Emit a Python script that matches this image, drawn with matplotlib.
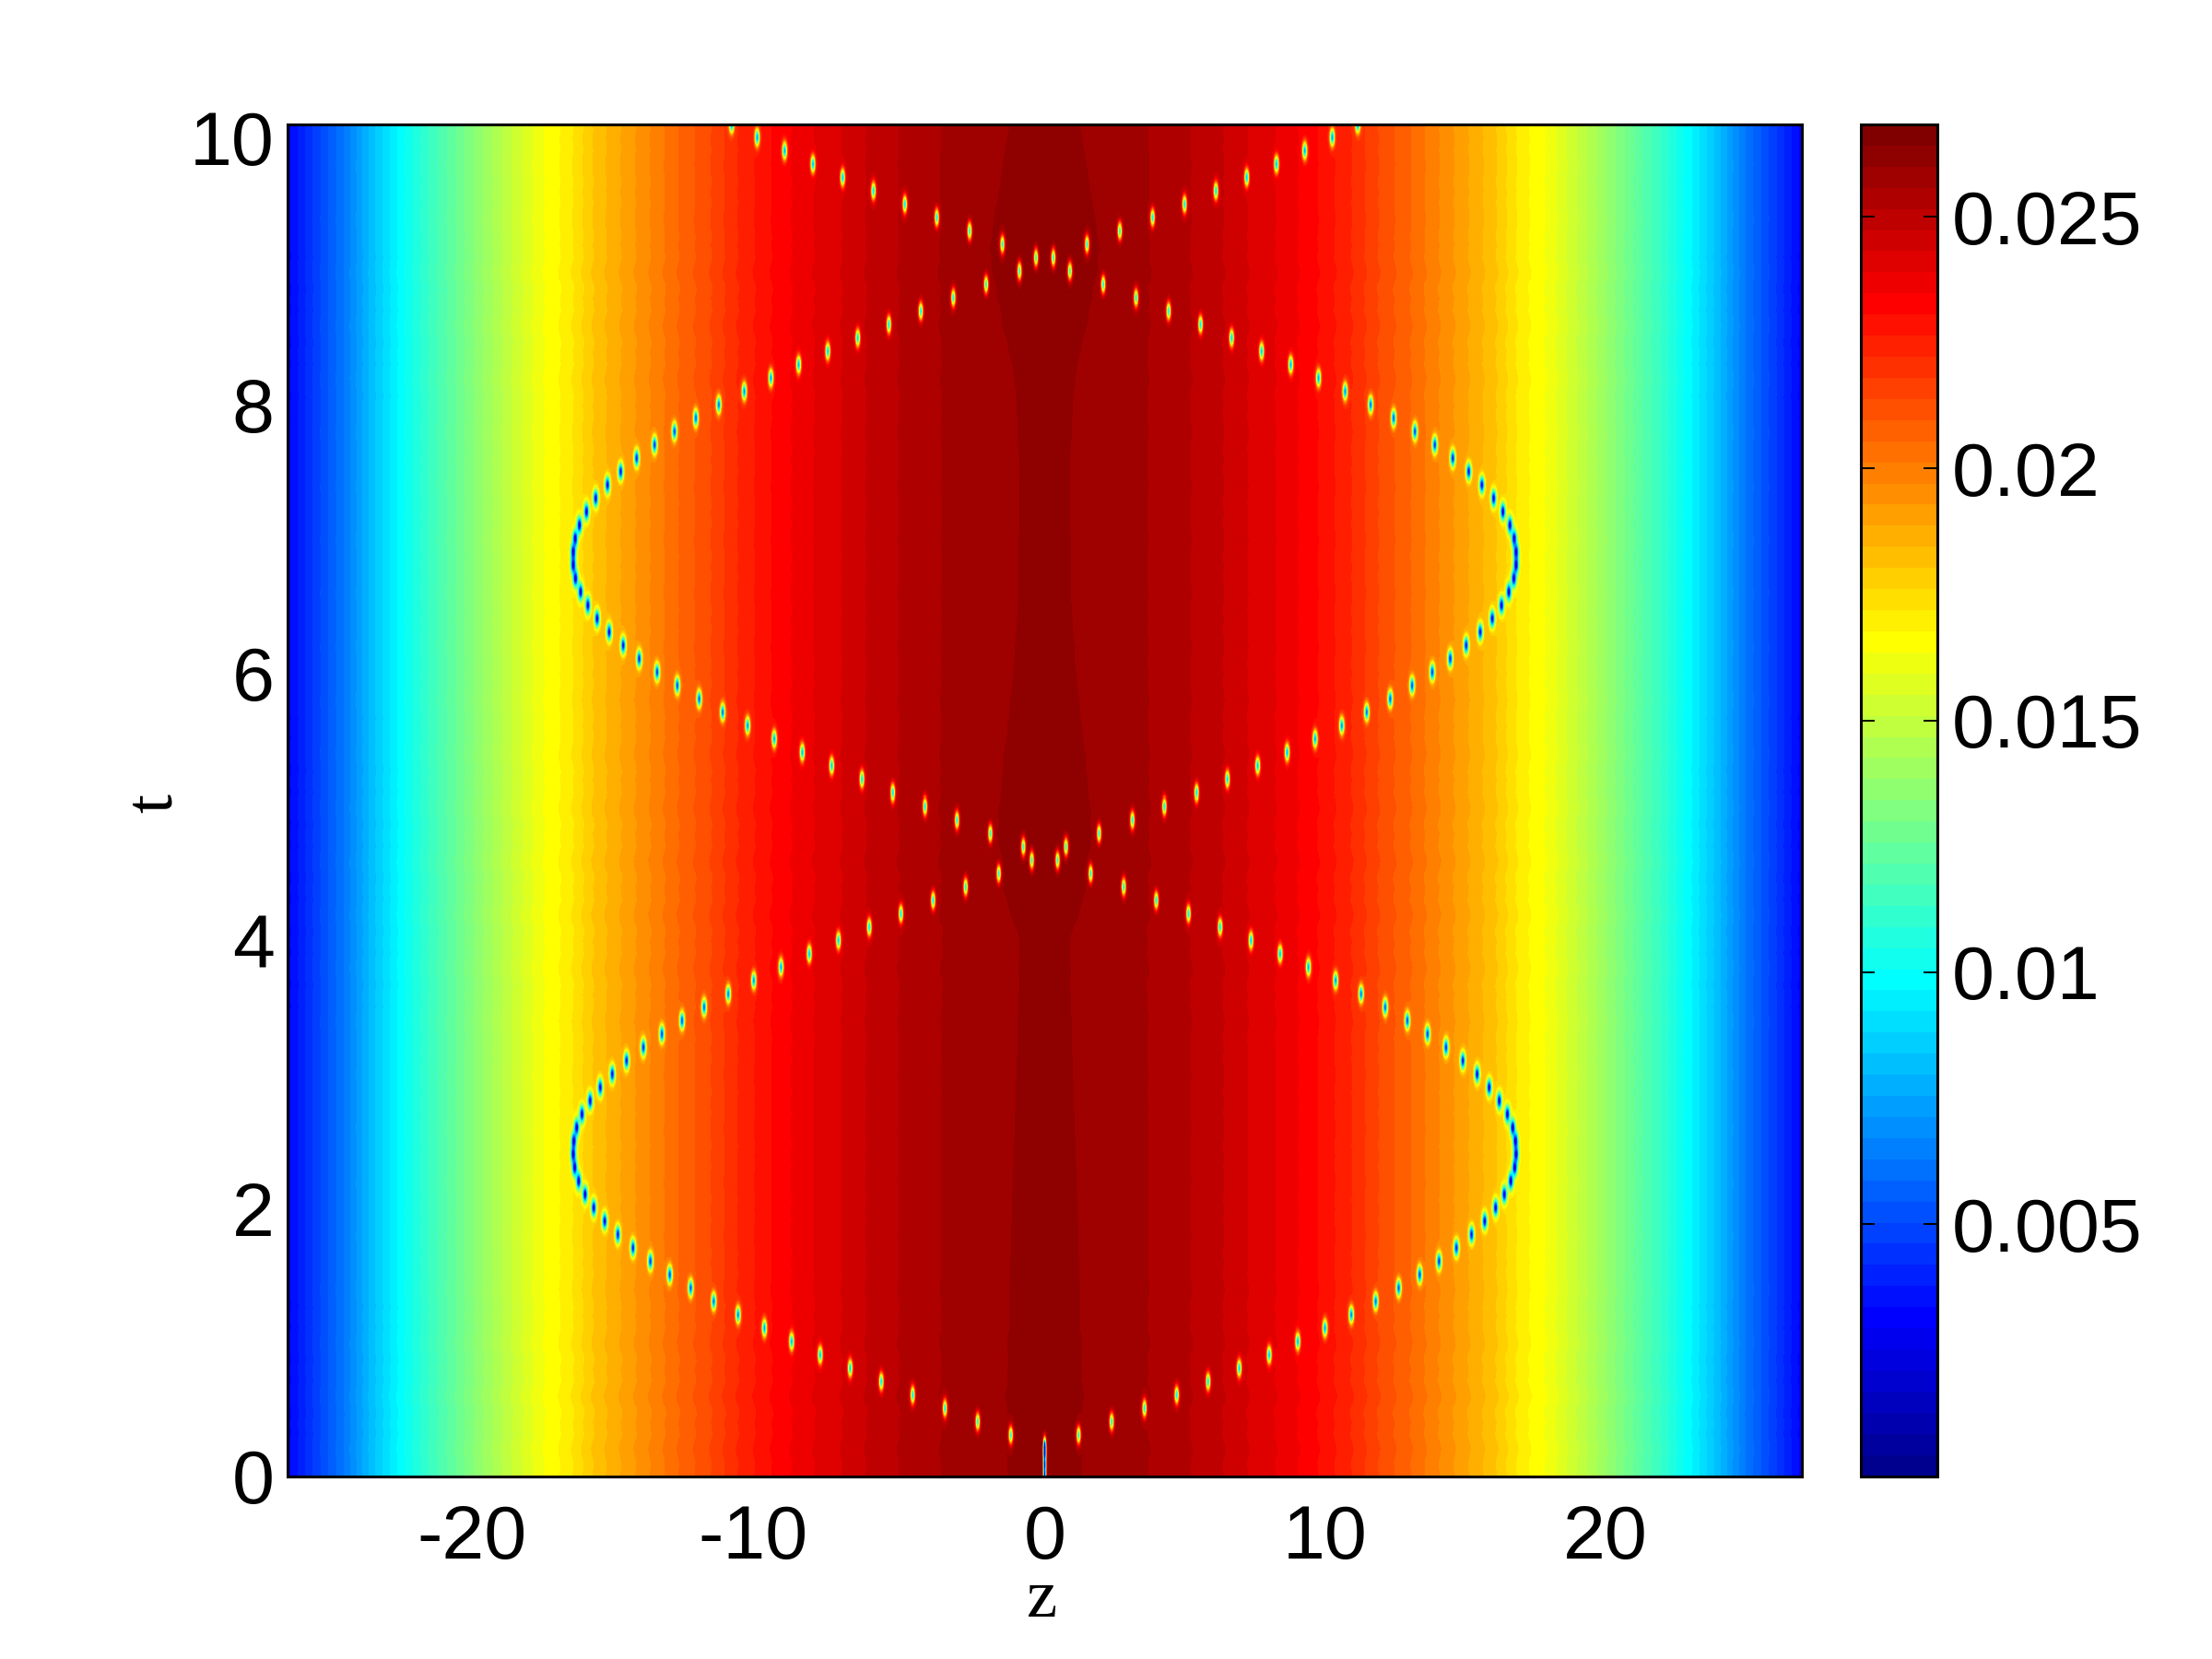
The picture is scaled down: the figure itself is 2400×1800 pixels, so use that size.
import numpy as np
import matplotlib
matplotlib.use("Agg")
import matplotlib.pyplot as plt
from matplotlib.colors import ListedColormap
from matplotlib.transforms import ScaledTranslation

plt.rcParams['font.family'] = ['Liberation Sans', 'DejaVu Sans']

# density profile against |z|
PROFILE_Z = [0.0, 1.46, 3.9, 5.3, 6.45, 7.3, 8.3, 9.1, 9.8, 11.0, 12.0, 13.0, 14.0, 15.0,
             16.0, 17.0, 17.3, 18.0, 19.0, 20.0, 21.0, 22.0, 23.0, 24.0, 25.0, 26.0, 27.0]
PROFILE_V = [0.02625, 0.02596, 0.02554, 0.02513, 0.02471, 0.02429, 0.02387, 0.02345, 0.02303,
             0.02219, 0.0213, 0.0206, 0.01977, 0.01897, 0.01817, 0.0170, 0.01677, 0.01625,
             0.0151, 0.0139, 0.0126, 0.0113, 0.0098, 0.0082, 0.0063, 0.0048, 0.0032]

# half width of the darkest central band over time
PLUME_T = [0.0, 0.55, 1.9, 2.9, 3.5, 4.0, 4.4, 4.8, 5.23, 6.0, 6.55, 7.5, 8.2, 8.8, 9.16, 9.44, 10.07, 10.1]
PLUME_W = [1.5, 1.52, 1.33, 1.15, 1.05, 1.0, 1.7, 1.9, 1.7, 1.25, 1.06, 1.0, 1.2, 1.9, 2.2, 1.98, 1.43, 1.4]

# wobble of the band edges: one estimated wave and how strong it is over time
WOBBLE_STEP = 0.05
WOBBLE_WAVE = [0.0, 0.9, 0.6, -0.7, -1.0, -0.2, 0.8, 0.3]
WOBBLE_T = [0.0, 0.2, 0.6, 1.3, 1.7, 3.0, 3.6, 4.4, 5.2, 6.2, 7.6, 8.2, 9.0, 9.3, 10.1]
WOBBLE_A = [0.0, 0.07, 0.08, 0.04, 0.01, 0.01, 0.05, 0.07, 0.05, 0.02, 0.02, 0.05, 0.07, 0.02, 0.01]

# soliton positions, one per 0.1 time step starting at t = 0.3
DOT_T = [0.1 * k for k in range(3, 102)]
DOT_Z = [1.21, 2.39, 3.56, 4.71, 5.83, 6.94, 8.01, 9.03, 10.0, 10.94,
         11.81, 12.63, 13.38, 14.07, 14.69, 15.23, 15.70, 16.09, 16.40, 16.63,
         16.77, 16.82, 16.80, 16.70, 16.51, 16.22, 15.86, 15.43, 14.92, 14.32,
         13.66, 12.94, 12.15, 11.29, 10.38, 9.41, 8.40, 7.36, 6.26, 5.13,
         3.98, 2.82, 1.64, 0.46, -0.76, -1.94, -3.13, -4.27, -5.42, -6.52,
         -7.60, -8.65, -9.65, -10.6, -11.49, -12.33, -13.11, -13.83, -14.47, -15.04,
         -15.54, -15.97, -16.30, -16.56, -16.74, -16.82, -16.82, -16.75, -16.60, -16.35,
         -16.02, -15.60, -15.13, -14.56, -13.92, -13.21, -12.45, -11.63, -10.72, -9.77,
         -8.78, -7.74, -6.67, -5.56, -4.42, -3.26, -2.09, -0.90, 0.31, 1.51,
         2.68, 3.85, 4.99, 6.11, 7.21, 8.27, 9.28, 10.26, 11.17]

# the start of the pair, still one dark line at z = 0
START_T = [0.0, 0.08, 0.16, 0.22]

DEPTH_Z = [0.0, 5.0, 10.0, 14.0, 16.8]
DEPTH_V = [0.58, 0.62, 0.68, 0.78, 0.90]
WIDTH_V = [0.074, 0.076, 0.080, 0.084, 0.088]

X_TICKS = [-20, -10, 0, 10, 20]
Y_TICKS = [0, 2, 4, 6, 8, 10]
CBAR_TICKS = [0.005, 0.01, 0.015, 0.02, 0.025]
CBAR_LABELS = ['0.005', '0.01', '0.015', '0.02', '0.025']

Z_MAX = 27.0
T_MAX = 10.1
V_MIN = 0.0
V_MAX = 0.02683


def matlab_jet():
    # same 64 steps as the old MATLAB jet
    colors = np.zeros((64, 3))
    u = np.concatenate([np.arange(1, 17) / 16, np.ones(15), np.arange(16, 0, -1) / 16])
    g = np.arange(9, 56)
    for channel, idx in enumerate([g + 16, g, g - 16]):
        keep = (idx >= 1) & (idx <= 64)
        colors[idx[keep] - 1, channel] = u[keep]
    return ListedColormap(colors)


def add_dip(field, z, t, z0, t0, depth, width, height):
    gz = np.exp(-((z - z0) / width) ** 2)
    gt = np.exp(-((t - t0) / height) ** 2)
    field *= 1 - depth * np.outer(gt, gz)


z = np.linspace(-Z_MAX, Z_MAX, 1643)
t = np.linspace(0, T_MAX, 1466)
wave_pos = np.arange(len(WOBBLE_WAVE) + 1) * WOBBLE_STEP
wave_val = WOBBLE_WAVE + WOBBLE_WAVE[:1]
# wobble is gone at the very middle and fades again towards the blue edges
wobble_reach = np.interp(np.abs(z), [0, 3, 17, 24, 27], [0, 1, 1, 0.3, 0.1])
field = np.zeros((t.size, z.size))
for i, ti in enumerate(t):
    half = np.interp(ti, PLUME_T, PLUME_W)
    wobble = np.interp(ti % wave_pos[-1], wave_pos, wave_val) * np.interp(ti, WOBBLE_T, WOBBLE_A)
    z_abs = np.abs(z) + wobble * wobble_reach
    z_eff = np.interp(z_abs, [0, half, 3.9, 30], [0, 1.46, 3.9, 30])
    field[i] = np.interp(z_eff, PROFILE_Z, PROFILE_V)

for ti, zi in zip(DOT_T, DOT_Z):
    depth = np.interp(abs(zi), DEPTH_Z, DEPTH_V)
    width = np.interp(abs(zi), DEPTH_Z, WIDTH_V)
    add_dip(field, z, t, zi, ti, depth, width, 0.062)
    add_dip(field, z, t, -zi, ti, depth, width, 0.062)
for ti in START_T:
    add_dip(field, z, t, 0.0, ti, 0.9, 0.05, 0.06)

fig = plt.figure(figsize=(12, 9), dpi=200)
ax = fig.add_axes([312 / 2400, 1 - 1601.5 / 1800, 1643 / 2400, 1466.5 / 1800])
cax = fig.add_axes([2019 / 2400, 1 - 1601.5 / 1800, 82.5 / 2400, 1466.5 / 1800])

im = ax.imshow(field, extent=[-Z_MAX, Z_MAX, 0, T_MAX], origin='lower', aspect='auto',
               cmap=matlab_jet(), vmin=V_MIN, vmax=V_MAX, interpolation='nearest')

ax.set_xticks(X_TICKS)
ax.set_xticklabels([str(v) for v in X_TICKS])
ax.set_yticks(Y_TICKS)
ax.set_yticklabels([str(v) for v in Y_TICKS])
ax.tick_params(axis='both', length=0, labelsize=29.7)
ax.tick_params(axis='x', pad=11)
ax.tick_params(axis='y', pad=5.2)
for spine in ax.spines.values():
    spine.set_linewidth(1.1)

# minus sign hangs to the left of the centred digits
shift = ScaledTranslation(-0.0625, 0, fig.dpi_scale_trans)
for value, label in zip(X_TICKS, ax.get_xticklabels()):
    if value < 0:
        label.set_transform(label.get_transform() + shift)

ax.set_xlabel('z', family='Liberation Serif', fontsize=27)
ax.xaxis.set_label_coords(0.4985, -0.092)
ax.xaxis.label.set_verticalalignment('center')
ax.set_ylabel('t', family='Liberation Serif', fontsize=27)
ax.yaxis.set_label_coords(-0.0876, 0.498)
ax.yaxis.label.set_verticalalignment('center')

cbar = fig.colorbar(im, cax=cax, ticks=CBAR_TICKS)
cbar.ax.set_yticklabels(CBAR_LABELS)
cbar.ax.tick_params(axis='y', which='both', direction='in', left=True, right=True,
                    length=5.4, width=0.7, labelsize=29.7, pad=5.8)
cbar.ax.minorticks_off()
cbar.outline.set_linewidth(1.1)

fig.savefig('out.png', dpi=200)
plt.close(fig)
